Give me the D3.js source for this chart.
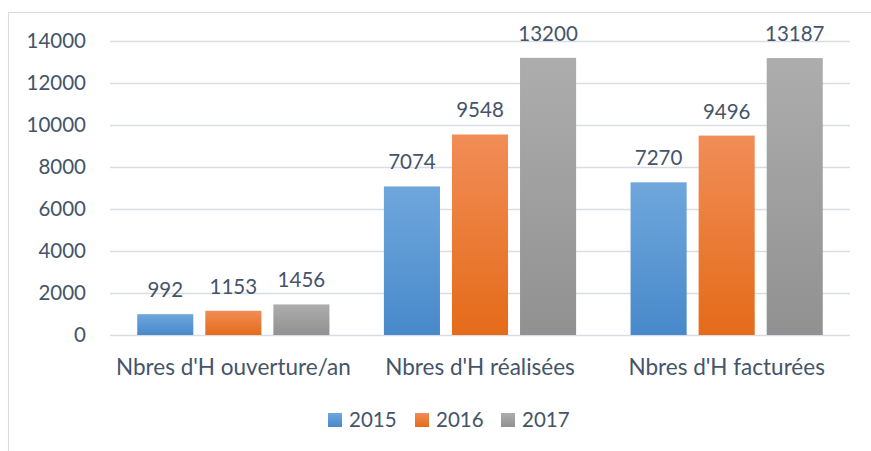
<!DOCTYPE html>
<html><head><meta charset="utf-8">
<script src="https://cdn.jsdelivr.net/npm/d3@7"></script>
<style>body{margin:0;background:#fff}svg{display:block}text{font-family:Lato,"Open Sans",sans-serif;fill:#44546A}</style>
</head><body><svg id="c" width="871" height="451"></svg>
<script>
const categories = ["Nbres d'H ouverture/an", "Nbres d'H réalisées", "Nbres d'H facturées"];
const years = ["2015", "2016", "2017"];
const values2015 = [992, 7074, 7270];
const values2016 = [1153, 9548, 9496];
const values2017 = [1456, 13200, 13187];
const yTicks = [0, 2000, 4000, 6000, 8000, 10000, 12000, 14000];
const series = [values2015, values2016, values2017];
const grads = [["#6FA7DC","#4889CA"],["#F18D57","#E46B19"],["#ADADAD","#919191"]];

const svg = d3.select("#c");
svg.append("rect").attr("x",8.5).attr("y",12.5).attr("width",880).attr("height",460).attr("fill","none").attr("stroke","#D9DDE3");
const defs = svg.append("defs");
grads.forEach((g,i)=>{
  const lg = defs.append("linearGradient").attr("id","g"+i).attr("x1",0).attr("y1",0).attr("x2",0).attr("y2",1);
  lg.append("stop").attr("offset",0).attr("stop-color",g[0]);
  lg.append("stop").attr("offset",1).attr("stop-color",g[1]);
});
const x0 = d3.scaleBand().domain(categories).range([110,850]).paddingInner(0).paddingOuter(0);
const x1 = d3.scaleBand().domain(years).range([0,x0.bandwidth()]).paddingInner(0.176).paddingOuter(0.40);
const y = d3.scaleLinear().domain([0,14000]).range([335,41]);

const yAxis = d3.axisLeft(y).tickValues(yTicks).tickSize(-(850-110)).tickPadding(24).tickFormat(d3.format("d"));
const ga = svg.append("g").attr("transform","translate(110,0)").call(yAxis);
ga.select(".domain").remove();
ga.selectAll(".tick line").attr("stroke","#D9DDE3").attr("stroke-width",1.3);
ga.selectAll(".tick text").attr("font-size",20.5).attr("fill","#44546A").attr("font-family","Lato").attr("x",-24);

const g = svg.append("g");
categories.forEach((c,ci)=>{
  years.forEach((yr,si)=>{
    const v = series[si][ci];
    const bx = x0(c)+x1(yr);
    g.append("rect").attr("x",bx).attr("y",y(v)).attr("width",x1.bandwidth()).attr("height",y(0)-y(v)).attr("fill","url(#g"+si+")");
    g.append("text").attr("x",bx+x1.bandwidth()/2).attr("y",y(v)-17).attr("text-anchor","middle").attr("font-size",20.5).text(v);
  });
  g.append("text").attr("x",x0(c)+x0.bandwidth()/2).attr("y",375).attr("text-anchor","middle").attr("font-size",22.5).text(c);
});

const lx = [328,415,501];
years.forEach((yr,i)=>{
  svg.append("rect").attr("x",lx[i]).attr("y",413).attr("width",14).attr("height",14).attr("fill","url(#g"+i+")");
  svg.append("text").attr("x",lx[i]+21).attr("y",427).attr("font-size",20.5).text(yr);
});
</script></body></html>
